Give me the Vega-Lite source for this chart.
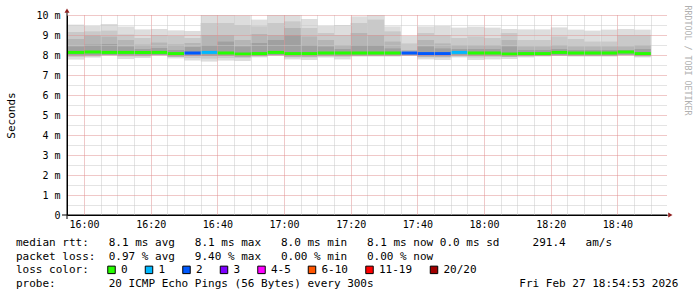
{
"$schema": "https://vega.github.io/schema/vega-lite/v6.json",
"width": 600, "height": 200,
"autosize": "none",
"padding": {"left": 67, "top": 15, "right": 30, "bottom": 82},
"background": "white",
"config": {
  "view": {"stroke": null},
  "axis": {"labelFont": "DejaVu Sans Mono", "labelFontSize": 10, "labelColor": "#000", "titleFont": "DejaVu Sans Mono", "titleFontWeight": "normal", "titleColor": "#000", "domainColor": "#000", "labelFlush": false}
},
"title": {
  "text": [
    "median rtt:\u00a0\u00a0\u00a08.1 ms avg\u00a0\u00a0\u00a08.1 ms max\u00a0\u00a0\u00a08.0 ms min\u00a0\u00a0\u00a08.1 ms now\u00a00.0 ms sd\u00a0\u00a0\u00a0\u00a0\u00a0291.4\u00a0\u00a0\u00a0am/s",
    "packet loss:\u00a0\u00a00.97 % avg\u00a0\u00a0\u00a09.40 % max\u00a0\u00a0\u00a00.00 % min\u00a0\u00a0\u00a00.00 % now",
    "loss color:",
    "probe:\u00a0\u00a0\u00a0\u00a0\u00a0\u00a0\u00a0\u00a020 ICMP Echo Pings (56 Bytes) every 300s\u00a0\u00a0\u00a0\u00a0\u00a0\u00a0\u00a0\u00a0\u00a0\u00a0\u00a0\u00a0\u00a0\u00a0\u00a0\u00a0\u00a0\u00a0\u00a0\u00a0\u00a0\u00a0Fri Feb 27 18:54:53 2026"
  ],
  "orient": "bottom", "anchor": "start", "frame": "group",
  "font": "DejaVu Sans Mono", "fontSize": 11, "fontWeight": "normal", "color": "#000",
  "lineHeight": 13.7, "offset": -39, "dx": -51
},
"data": {"values": [
{"t":"2026-02-27T15:55:00Z","tm":"2026-02-27T15:57:30Z","t2":"2026-02-27T16:00:00Z","lo1":7.77,"hi1":9.52,"lo2":7.90,"hi2":9.15,"lo3":7.97,"hi3":8.80,"hi4":8.43,"med":8.13,"loss":"0"},
{"t":"2026-02-27T16:00:00Z","tm":"2026-02-27T16:02:30Z","t2":"2026-02-27T16:05:00Z","lo1":7.87,"hi1":9.45,"lo2":7.93,"hi2":9.18,"lo3":7.98,"hi3":8.97,"hi4":8.52,"med":8.15,"loss":"0"},
{"t":"2026-02-27T16:05:00Z","tm":"2026-02-27T16:07:30Z","t2":"2026-02-27T16:10:00Z","lo1":7.97,"hi1":9.55,"lo2":7.99,"hi2":9.22,"lo3":8.00,"hi3":8.92,"hi4":8.55,"med":8.13,"loss":"0"},
{"t":"2026-02-27T16:10:00Z","tm":"2026-02-27T16:12:30Z","t2":"2026-02-27T16:15:00Z","lo1":7.80,"hi1":9.42,"lo2":7.92,"hi2":9.02,"lo3":7.97,"hi3":8.75,"hi4":8.43,"med":8.13,"loss":"0"},
{"t":"2026-02-27T16:15:00Z","tm":"2026-02-27T16:17:30Z","t2":"2026-02-27T16:20:00Z","lo1":7.85,"hi1":9.28,"lo2":7.93,"hi2":8.85,"lo3":7.97,"hi3":8.52,"hi4":8.30,"med":8.13,"loss":"0"},
{"t":"2026-02-27T16:20:00Z","tm":"2026-02-27T16:22:30Z","t2":"2026-02-27T16:25:00Z","lo1":7.97,"hi1":9.30,"lo2":7.99,"hi2":9.00,"lo3":8.00,"hi3":8.62,"hi4":8.35,"med":8.13,"loss":"0"},
{"t":"2026-02-27T16:25:00Z","tm":"2026-02-27T16:27:30Z","t2":"2026-02-27T16:30:00Z","lo1":7.83,"hi1":9.23,"lo2":7.90,"hi2":8.95,"lo3":7.93,"hi3":8.53,"hi4":8.25,"med":8.07,"loss":"0"},
{"t":"2026-02-27T16:30:00Z","tm":"2026-02-27T16:32:30Z","t2":"2026-02-27T16:35:00Z","lo1":7.72,"hi1":9.20,"lo2":7.85,"hi2":8.85,"lo3":7.95,"hi3":8.60,"hi4":8.40,"med":8.10,"loss":"2"},
{"t":"2026-02-27T16:35:00Z","tm":"2026-02-27T16:37:30Z","t2":"2026-02-27T16:40:00Z","lo1":7.67,"hi1":10.00,"lo2":7.82,"hi2":9.60,"lo3":7.95,"hi3":9.00,"hi4":8.50,"med":8.13,"loss":"1"},
{"t":"2026-02-27T16:40:00Z","tm":"2026-02-27T16:42:30Z","t2":"2026-02-27T16:45:00Z","lo1":7.72,"hi1":10.00,"lo2":7.85,"hi2":9.60,"lo3":7.95,"hi3":9.00,"hi4":8.67,"med":8.10,"loss":"0"},
{"t":"2026-02-27T16:45:00Z","tm":"2026-02-27T16:47:30Z","t2":"2026-02-27T16:50:00Z","lo1":7.70,"hi1":9.98,"lo2":7.85,"hi2":9.50,"lo3":7.92,"hi3":8.75,"hi4":8.43,"med":8.05,"loss":"0"},
{"t":"2026-02-27T16:50:00Z","tm":"2026-02-27T16:52:30Z","t2":"2026-02-27T16:55:00Z","lo1":7.88,"hi1":9.77,"lo2":7.92,"hi2":9.43,"lo3":7.95,"hi3":9.05,"hi4":8.60,"med":8.07,"loss":"0"},
{"t":"2026-02-27T16:55:00Z","tm":"2026-02-27T16:57:30Z","t2":"2026-02-27T17:00:00Z","lo1":7.95,"hi1":10.00,"lo2":7.98,"hi2":9.60,"lo3":8.00,"hi3":9.00,"hi4":8.75,"med":8.13,"loss":"0"},
{"t":"2026-02-27T17:00:00Z","tm":"2026-02-27T17:02:30Z","t2":"2026-02-27T17:05:00Z","lo1":7.78,"hi1":10.00,"lo2":7.88,"hi2":9.68,"lo3":7.93,"hi3":9.35,"hi4":9.00,"med":8.07,"loss":"0"},
{"t":"2026-02-27T17:05:00Z","tm":"2026-02-27T17:07:30Z","t2":"2026-02-27T17:10:00Z","lo1":7.75,"hi1":9.80,"lo2":7.88,"hi2":9.35,"lo3":7.93,"hi3":8.93,"hi4":8.50,"med":8.07,"loss":"0"},
{"t":"2026-02-27T17:10:00Z","tm":"2026-02-27T17:12:30Z","t2":"2026-02-27T17:15:00Z","lo1":7.87,"hi1":9.45,"lo2":7.92,"hi2":9.10,"lo3":7.96,"hi3":8.75,"hi4":8.43,"med":8.10,"loss":"0"},
{"t":"2026-02-27T17:15:00Z","tm":"2026-02-27T17:17:30Z","t2":"2026-02-27T17:20:00Z","lo1":7.78,"hi1":9.50,"lo2":7.90,"hi2":9.00,"lo3":7.95,"hi3":8.50,"hi4":8.30,"med":8.10,"loss":"0"},
{"t":"2026-02-27T17:20:00Z","tm":"2026-02-27T17:22:30Z","t2":"2026-02-27T17:25:00Z","lo1":7.92,"hi1":9.93,"lo2":7.95,"hi2":9.60,"lo3":7.97,"hi3":9.10,"hi4":8.50,"med":8.10,"loss":"0"},
{"t":"2026-02-27T17:25:00Z","tm":"2026-02-27T17:27:30Z","t2":"2026-02-27T17:30:00Z","lo1":7.92,"hi1":10.00,"lo2":7.95,"hi2":9.77,"lo3":7.97,"hi3":9.00,"hi4":8.50,"med":8.10,"loss":"0"},
{"t":"2026-02-27T17:30:00Z","tm":"2026-02-27T17:32:30Z","t2":"2026-02-27T17:35:00Z","lo1":7.92,"hi1":9.43,"lo2":7.95,"hi2":9.18,"lo3":7.97,"hi3":8.67,"hi4":8.33,"med":8.10,"loss":"0"},
{"t":"2026-02-27T17:35:00Z","tm":"2026-02-27T17:37:30Z","t2":"2026-02-27T17:40:00Z","lo1":7.95,"hi1":8.95,"lo2":7.97,"hi2":8.58,"lo3":7.99,"hi3":8.25,"hi4":8.15,"med":8.10,"loss":"2"},
{"t":"2026-02-27T17:40:00Z","tm":"2026-02-27T17:42:30Z","t2":"2026-02-27T17:45:00Z","lo1":7.78,"hi1":9.43,"lo2":7.88,"hi2":9.10,"lo3":7.93,"hi3":8.75,"hi4":8.43,"med":8.07,"loss":"2"},
{"t":"2026-02-27T17:45:00Z","tm":"2026-02-27T17:47:30Z","t2":"2026-02-27T17:50:00Z","lo1":7.75,"hi1":9.45,"lo2":7.87,"hi2":9.00,"lo3":7.93,"hi3":8.58,"hi4":8.33,"med":8.07,"loss":"2"},
{"t":"2026-02-27T17:50:00Z","tm":"2026-02-27T17:52:30Z","t2":"2026-02-27T17:55:00Z","lo1":7.88,"hi1":9.37,"lo2":7.93,"hi2":8.85,"lo3":7.98,"hi3":8.50,"hi4":8.30,"med":8.13,"loss":"1"},
{"t":"2026-02-27T17:55:00Z","tm":"2026-02-27T17:57:30Z","t2":"2026-02-27T18:00:00Z","lo1":7.75,"hi1":9.42,"lo2":7.88,"hi2":8.93,"lo3":7.95,"hi3":8.50,"hi4":8.30,"med":8.10,"loss":"0"},
{"t":"2026-02-27T18:00:00Z","tm":"2026-02-27T18:02:30Z","t2":"2026-02-27T18:05:00Z","lo1":7.78,"hi1":9.37,"lo2":7.90,"hi2":8.85,"lo3":7.95,"hi3":8.50,"hi4":8.30,"med":8.10,"loss":"0"},
{"t":"2026-02-27T18:05:00Z","tm":"2026-02-27T18:07:30Z","t2":"2026-02-27T18:10:00Z","lo1":7.80,"hi1":9.30,"lo2":7.90,"hi2":9.10,"lo3":7.93,"hi3":8.75,"hi4":8.43,"med":8.05,"loss":"0"},
{"t":"2026-02-27T18:10:00Z","tm":"2026-02-27T18:12:30Z","t2":"2026-02-27T18:15:00Z","lo1":7.88,"hi1":9.28,"lo2":7.92,"hi2":8.75,"lo3":7.95,"hi3":8.43,"hi4":8.25,"med":8.07,"loss":"0"},
{"t":"2026-02-27T18:15:00Z","tm":"2026-02-27T18:17:30Z","t2":"2026-02-27T18:20:00Z","lo1":7.92,"hi1":9.28,"lo2":7.95,"hi2":8.75,"lo3":7.96,"hi3":8.43,"hi4":8.25,"med":8.07,"loss":"0"},
{"t":"2026-02-27T18:20:00Z","tm":"2026-02-27T18:22:30Z","t2":"2026-02-27T18:25:00Z","lo1":7.95,"hi1":9.38,"lo2":7.97,"hi2":8.93,"lo3":7.99,"hi3":8.50,"hi4":8.30,"med":8.13,"loss":"0"},
{"t":"2026-02-27T18:25:00Z","tm":"2026-02-27T18:27:30Z","t2":"2026-02-27T18:30:00Z","lo1":7.92,"hi1":9.27,"lo2":7.95,"hi2":8.80,"lo3":7.97,"hi3":8.43,"hi4":8.25,"med":8.10,"loss":"0"},
{"t":"2026-02-27T18:30:00Z","tm":"2026-02-27T18:32:30Z","t2":"2026-02-27T18:35:00Z","lo1":7.92,"hi1":9.22,"lo2":7.95,"hi2":8.67,"lo3":7.97,"hi3":8.43,"hi4":8.25,"med":8.10,"loss":"0"},
{"t":"2026-02-27T18:35:00Z","tm":"2026-02-27T18:37:30Z","t2":"2026-02-27T18:40:00Z","lo1":7.92,"hi1":9.27,"lo2":7.95,"hi2":8.67,"lo3":7.97,"hi3":8.43,"hi4":8.25,"med":8.10,"loss":"0"},
{"t":"2026-02-27T18:40:00Z","tm":"2026-02-27T18:42:30Z","t2":"2026-02-27T18:45:00Z","lo1":7.97,"hi1":9.30,"lo2":7.99,"hi2":9.00,"lo3":8.01,"hi3":8.43,"hi4":8.25,"med":8.15,"loss":"0"},
{"t":"2026-02-27T18:45:00Z","tm":"2026-02-27T18:47:30Z","t2":"2026-02-27T18:50:00Z","lo1":7.88,"hi1":9.27,"lo2":7.92,"hi2":9.00,"lo3":7.95,"hi3":8.50,"hi4":8.30,"med":8.07,"loss":"0"}
]},
"resolve": {"axis": {"x": "independent", "y": "independent"}},
"layer": [
  {"mark": {"type": "rect", "color": "#dddddd"},
   "encoding": {
     "x": {"field": "t", "type": "temporal", "scale": {"type": "utc", "domain": [1772207693000, 1772218493000]},
           "axis": {"orient": "bottom", "values": [1772207700000,1772208300000,1772208600000,1772208900000,1772209500000,1772209800000,1772210100000,1772210700000,1772211000000,1772211300000,1772211900000,1772212200000,1772212500000,1772213100000,1772213400000,1772213700000,1772214300000,1772214600000,1772214900000,1772215500000,1772215800000,1772216100000,1772216700000,1772217000000,1772217300000,1772217900000,1772218200000], "grid": true, "gridColor": "#c8c8c8", "gridDash": [1,1], "labels": false, "ticks": false, "domain": false, "title": null, "zindex": 1}},
     "x2": {"field": "t2"},
     "y": {"field": "lo1", "type": "quantitative", "scale": {"domain": [0,10], "nice": false},
           "axis": {"orient": "left", "values": [0.5,1.5,2.5,3.5,4.5,5.5,6.5,7.5,8.5,9.5], "grid": true, "gridColor": "#c8c8c8", "gridDash": [1,1], "labels": false, "ticks": false, "domain": false, "title": null, "zindex": 1}},
     "y2": {"field": "hi1"}
   }},
  {"mark": {"type": "rect", "color": "#c9c9c9"},
   "encoding": {
     "x": {"field": "t", "type": "temporal", "scale": {"type": "utc", "domain": [1772207693000, 1772218493000]}, "axis": null},
     "x2": {"field": "t2"},
     "y": {"field": "lo2", "type": "quantitative", "scale": {"domain": [0,10], "nice": false},
           "axis": {"orient": "right", "title": "RRDTOOL / TOBI OETIKER", "titleAngle": 90, "titleX": 19, "titleY": -10, "titleAlign": "left", "titleBaseline": "middle", "titleFont": "DejaVu Sans Mono", "titleFontSize": 8.3, "titleColor": "#b0b0b0", "titleFontWeight": "normal", "labels": false, "ticks": false, "domain": false, "grid": false}},
     "y2": {"field": "hi2"}
   }},
  {"mark": {"type": "rect", "color": "#b5b5b5"},
   "encoding": {
     "x": {"field": "t", "type": "temporal", "scale": {"type": "utc", "domain": [1772207693000, 1772218493000]}, "axis": null},
     "x2": {"field": "t2"},
     "y": {"field": "lo3", "type": "quantitative", "scale": {"domain": [0,10], "nice": false}, "axis": null},
     "y2": {"field": "hi3"}
   }},
  {"mark": {"type": "rect", "color": "#a0a0a0"},
   "encoding": {
     "x": {"field": "t", "type": "temporal", "scale": {"type": "utc", "domain": [1772207693000, 1772218493000]}, "axis": null},
     "x2": {"field": "t2"},
     "y": {"field": "lo3", "type": "quantitative", "scale": {"domain": [0,10], "nice": false}, "axis": null},
     "y2": {"field": "hi4"}
   }},
  {"mark": {"type": "tick", "orient": "horizontal", "thickness": 3, "size": 16.7, "opacity": 1},
   "encoding": {
     "x": {"field": "tm", "type": "temporal", "scale": {"type": "utc", "domain": [1772207693000, 1772218493000]},
           "axis": {"orient": "bottom", "values": [1772208000000,1772209200000,1772210400000,1772211600000,1772212800000,1772214000000,1772215200000,1772216400000,1772217600000], "format": "%H:%M", "grid": true, "gridColor": "#e09090", "gridDash": [1,1], "ticks": false, "labelPadding": 4, "domain": true, "title": null, "zindex": 1}},
     "y": {"field": "med", "type": "quantitative", "scale": {"domain": [0,10], "nice": false},
           "axis": {"orient": "left", "values": [0,1,2,3,4,5,6,7,8,9,10], "labelExpr": "datum.value == 0 ? '0\u00a0\u00a0' : datum.value + ' m'", "grid": true, "gridColor": "#e09090", "gridDash": [1,1], "ticks": false, "labelPadding": 7, "domain": true, "zindex": 1,
                    "title": "Seconds", "titleFontSize": 11, "titleX": -56, "titleY": 100, "titleAngle": -90, "titleAlign": "center", "titleBaseline": "middle"}},
     "color": {"field": "loss", "type": "nominal",
       "scale": {"domain": ["0","1","2","3","4-5","6-10","11-19","20/20"], "range": ["#26ff00","#00b8ff","#0059ff","#7e00ff","#ff00ff","#ff5500","#ff0000","#a10000"]},
       "legend": {"orient": "none", "legendX": 39, "legendY": 249, "direction": "horizontal", "title": null, "symbolType": "square", "symbolSize": 56, "symbolStrokeColor": "#000", "symbolStrokeWidth": 1, "symbolOpacity": 1, "labelFont": "DejaVu Sans Mono", "labelFontSize": 11, "labelColor": "#000", "labelOffset": 4, "columnPadding": 14.5, "padding": 0}}
   }},
  {"data": {"values": [{}]},
   "mark": {"type": "point", "shape": "triangle-right", "filled": true, "size": 25, "color": "#8f1f1f", "opacity": 1},
   "encoding": {
     "x": {"datum": 1772218553000, "type": "temporal", "scale": {"type": "utc", "domain": [1772207693000, 1772218493000]}, "axis": null},
     "y": {"datum": 0, "type": "quantitative", "scale": {"domain": [0,10], "nice": false}, "axis": null}
   }},
  {"data": {"values": [{}]},
   "mark": {"type": "point", "shape": "triangle-up", "filled": true, "size": 25, "color": "#8f1f1f", "opacity": 1},
   "encoding": {
     "x": {"datum": 1772207693000, "type": "temporal", "scale": {"type": "utc", "domain": [1772207693000, 1772218493000]}, "axis": null},
     "y": {"datum": 10.22, "type": "quantitative", "scale": {"domain": [0,10], "nice": false}, "axis": null}
   }},
  {"data": {"values": [{}]},
   "mark": {"type": "rule", "color": "#000", "strokeWidth": 1},
   "encoding": {
     "x": {"datum": 1772207693000, "type": "temporal", "scale": {"type": "utc", "domain": [1772207693000, 1772218493000]}, "axis": null},
     "y": {"datum": -0.2, "type": "quantitative", "scale": {"domain": [0,10], "nice": false}, "axis": null},
     "y2": {"datum": 10.12}
   }},
  {"data": {"values": [{}]},
   "mark": {"type": "rule", "color": "#000", "strokeWidth": 1},
   "encoding": {
     "x": {"datum": 1772207603000, "type": "temporal", "scale": {"type": "utc", "domain": [1772207693000, 1772218493000]}, "axis": null},
     "x2": {"datum": 1772218500000},
     "y": {"datum": 0, "type": "quantitative", "scale": {"domain": [0,10], "nice": false}, "axis": null}
   }}
]
}
